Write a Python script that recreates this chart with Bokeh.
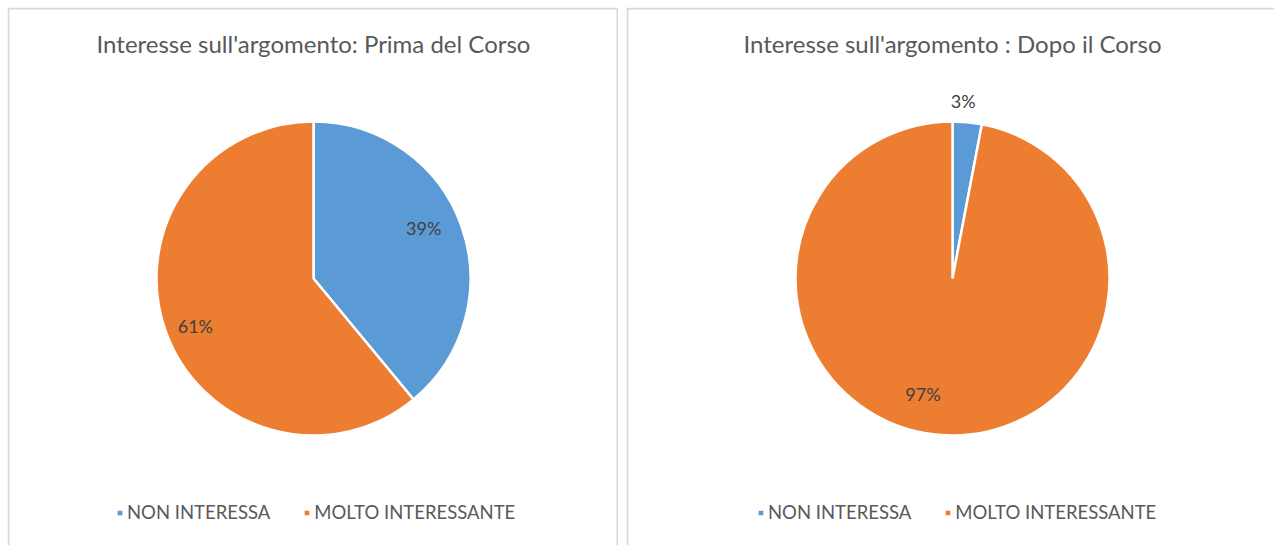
import math
from bokeh.plotting import figure
from bokeh.models import ColumnDataSource, Range1d, Label, LabelSet
from bokeh.core.properties import value
from bokeh.layouts import row
from bokeh.embed import file_html
from bokeh.resources import INLINE

# ---- data ----
categories = ["NON INTERESSA", "MOLTO INTERESSANTE"]
prima_values = [39, 61]
dopo_values = [3, 97]
titles = ["Interesse sull'argomento: Prima del Corso", "Interesse sull'argomento : Dopo il Corso"]
slice_colors = ["#5B9BD5", "#ED7D31"]

FONT = "Lato"
RADIUS = 157
BORDER = "#d9d9d9"


def make_pie(title, values, width, height, cx, cy_top, label_radius, nudges, legend_x, open_right):
    total = float(sum(values))
    starts, ends, lx, ly, texts = [], [], [], [], []
    cum = 0.0
    for i, v in enumerate(values):
        a0 = math.pi / 2 - cum / total * 2 * math.pi
        cum += v
        a1 = math.pi / 2 - cum / total * 2 * math.pi
        starts.append(a0)
        ends.append(a1)
        mid = (a0 + a1) / 2
        r = RADIUS * label_radius[i]
        lx.append(r * math.cos(mid))
        ly.append(r * math.sin(mid))
        texts.append(f"{v}%")
    src = ColumnDataSource(dict(cat=categories, start=starts, end=ends,
                                color=slice_colors, lx=lx, ly=ly, txt=texts,
                                dx=[n[0] for n in nudges], dy=[n[1] for n in nudges]))
    xr = Range1d(-cx, width - cx)
    yr = Range1d(-(height - cy_top), cy_top)
    p = figure(width=width, height=height, output_backend="svg", toolbar_location=None,
               x_range=xr, y_range=yr, min_border=0)
    p.axis.visible = False
    p.grid.visible = False
    p.outline_line_color = None
    p.background_fill_color = "white"
    p.border_fill_color = "white"
    # panel border (bottom, and right for the second panel, run past the visible page)
    p.quad(left=xr.start + 1, right=(xr.end + 10) if open_right else (xr.end - 1),
           top=yr.end - 1, bottom=yr.start - 10,
           fill_color=None, line_color=BORDER, line_width=2)
    p.wedge(x=0, y=0, radius=RADIUS, start_angle="start", end_angle="end",
            direction="clock", fill_color="color", line_color="white", line_width=2.5,
            source=src, legend_field="cat")
    labels = LabelSet(x="lx", y="ly", text="txt", source=src, text_align="center",
                      x_offset="dx", y_offset="dy",
                      text_baseline="middle", text_font=value(FONT), text_font_size="18px",
                      text_color="#404040")
    p.add_layout(labels)
    t = Label(x=0, y=cy_top - 36, text=title, text_align="center", text_baseline="middle",
              text_font=FONT, text_font_size="24px", text_color="#595959")
    p.add_layout(t)
    lg = p.legend[0]
    lg.orientation = "horizontal"
    lg.location = (legend_x, 22)
    lg.border_line_color = None
    lg.background_fill_alpha = 0
    lg.padding = 0
    lg.margin = 0
    lg.spacing = 32
    lg.glyph_width = 9
    lg.glyph_height = 9
    lg.label_standoff = 3
    lg.label_text_font = FONT
    lg.label_text_font_size = "18.5px"
    lg.label_text_color = "#595959"
    return p


p1 = make_pie(titles[0], prima_values, 611, 538, 306, 271, [0.78, 0.82],
              [(-5, 9), (3, -4)], 108, False)
p2 = make_pie(titles[1], dopo_values, 648, 538, 326, 271, [1.13, 0.78],
              [(-6, 1), (-18, 6)], 130, True)
layout = row(p1, p2, spacing=8, margin=(7, 0, 0, 7))

open("out.html", "w").write(file_html(layout, INLINE))
